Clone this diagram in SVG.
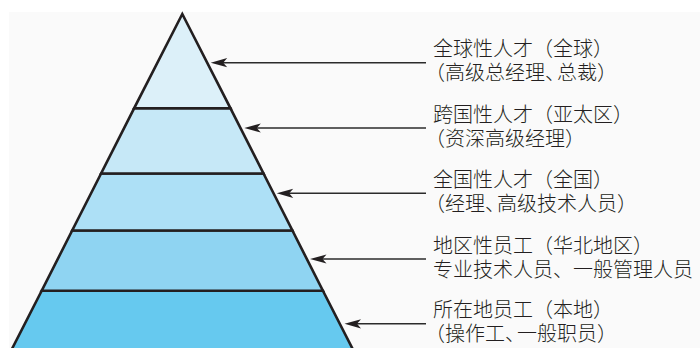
<svg xmlns="http://www.w3.org/2000/svg" width="700" height="348" viewBox="0 0 700 348">
<style>
.band{stroke:#231f20;stroke-width:2.6;stroke-linejoin:miter}
.conn{stroke:#2b2b2b;stroke-width:1.4;fill:none}
.lbl{font-family:"Liberation Sans","Noto Sans CJK SC",sans-serif;font-size:20px;font-weight:300;fill:#231f20}
</style>
<defs>
<marker id="ah" viewBox="-18 -6 20 12" markerWidth="20" markerHeight="12" refX="-8" refY="0" markerUnits="userSpaceOnUse" orient="auto" overflow="visible">
<path d="M0,0 L-16.5,-4.6 L-12.5,0 L-16.5,4.6 Z" fill="#231f20"/>
</marker>
</defs>
<rect x="0" y="0" width="700" height="348" fill="#ffffff"/>
<rect x="9" y="12" width="691" height="336" fill="#fafafa"/>
<g id="level5"><polygon class="band" points="41.7,290.7 322.9,290.7 354.2,352 10.4,352" fill="#66c9ef"/></g>
<g id="level4"><polygon class="band" points="72.2,230.5 292.4,230.5 322.9,290.7 41.7,290.7" fill="#8fd4f2"/></g>
<g id="level3"><polygon class="band" points="101.1,173.5 263.5,173.5 292.4,230.5 72.2,230.5" fill="#ade0f6"/></g>
<g id="level2"><polygon class="band" points="134.1,108.3 230.5,108.3 263.5,173.5 101.1,173.5" fill="#c6e8f7"/></g>
<g id="level1"><polygon class="band" points="182.3,14 230.5,108.3 134.1,108.3" fill="#dcf0f9"/></g>
<g id="connectors">
<line class="conn" x1="426" y1="62.7" x2="218.7" y2="62.7" marker-end="url(#ah)"/>
<line class="conn" x1="426" y1="128" x2="252.3" y2="128" marker-end="url(#ah)"/>
<line class="conn" x1="426" y1="193.3" x2="284.7" y2="193.3" marker-end="url(#ah)"/>
<line class="conn" x1="426" y1="259" x2="318" y2="259" marker-end="url(#ah)"/>
<line class="conn" x1="426" y1="323.8" x2="352.5" y2="323.8" marker-end="url(#ah)"/>
</g>
<g id="label1">
<text class="lbl"><tspan x="433" y="56.2">全球性人才（全球）</tspan><tspan x="425" y="80.2" dx="0 0 0 0 0 0 0 -8">（高级总经理、总裁）</tspan></text>
</g>
<g id="label2">
<text class="lbl"><tspan x="433" y="121.5">跨国性人才（亚太区）</tspan><tspan x="425" y="145.5">（资深高级经理）</tspan></text>
</g>
<g id="label3">
<text class="lbl"><tspan x="433" y="186.8">全国性人才（全国）</tspan><tspan x="425" y="210.8" dx="0 0 0 0 -8">（经理、高级技术人员）</tspan></text>
</g>
<g id="label4">
<text class="lbl"><tspan x="433" y="252.5">地区性员工（华北地区）</tspan><tspan x="433" y="276.5">专业技术人员、一般管理人员</tspan></text>
</g>
<g id="label5">
<text class="lbl"><tspan x="433" y="317.3">所在地员工（本地）</tspan><tspan x="425" y="341.3" dx="0 0 0 0 0 -8">（操作工、一般职员）</tspan></text>
</g>
</svg>
